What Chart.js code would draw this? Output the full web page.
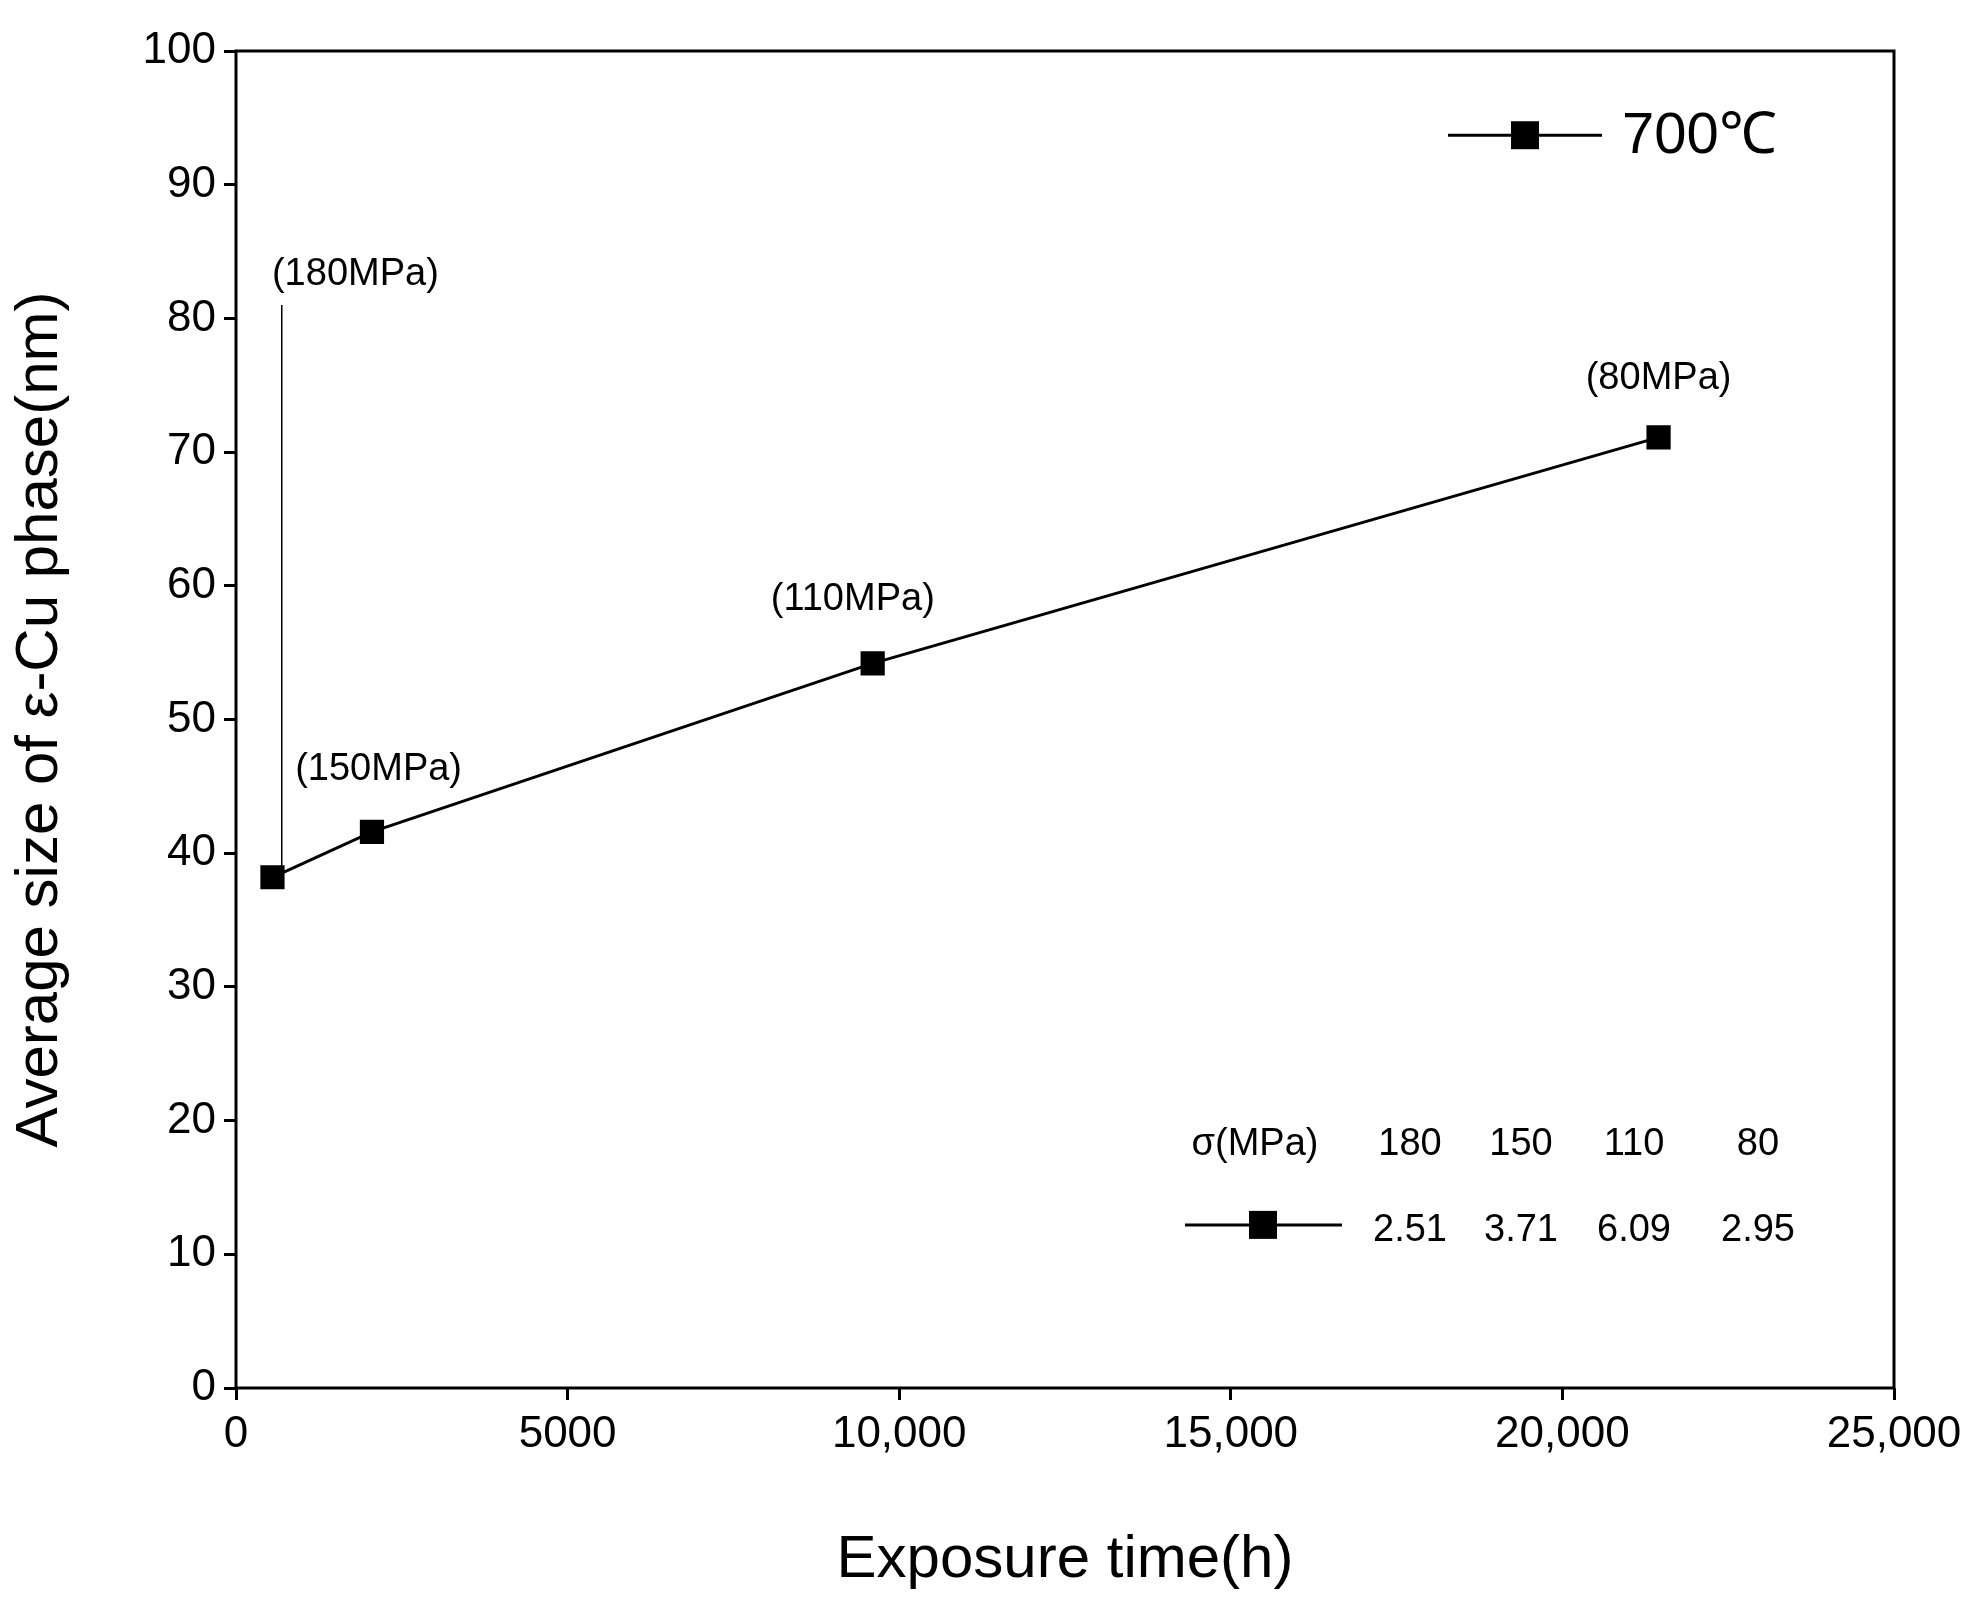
<!DOCTYPE html>
<html><head><meta charset="utf-8">
<script src="https://cdn.jsdelivr.net/npm/chart.js@4"></script>
<style>html,body{margin:0;background:#fff}#wrap{width:1986px;height:1600px}</style>
</head><body><div id="wrap"><canvas id="c"></canvas></div>
<script>
// data
const times = [550, 2050, 9600, 21450];
const sizes = [38.2, 41.6, 54.2, 71.1];
const stressLabels = ['(180MPa)', '(150MPa)', '(110MPa)', '(80MPa)'];
const sigma = ['180', '150', '110', '80'];
const slopes = ['2.51', '3.71', '6.09', '2.95'];
const xTicks = [0, 5000, 10000, 15000, 20000, 25000];
const FONT = 'Arial, "Liberation Sans", sans-serif';

const extras = {
  id: 'extras',
  afterDraw(chart) {
    const c = chart.ctx, x = chart.scales.x, y = chart.scales.y, a = chart.chartArea;
    c.save();
    c.strokeStyle = '#000'; c.lineWidth = 3;
    c.strokeRect(a.left, a.top, a.right - a.left, a.bottom - a.top);
    // leader line for first point
    c.lineWidth = 1.5;
    c.beginPath(); c.moveTo(x.getPixelForValue(690), y.getPixelForValue(38.5));
    c.lineTo(x.getPixelForValue(690), y.getPixelForValue(81)); c.stroke();
    c.fillStyle = '#000'; c.font = '38px ' + FONT; c.textAlign = 'center'; c.textBaseline = 'alphabetic';
    const lp = [[1800, 82.5], [2150, 45.5], [9300, 58.2], [21450, 74.7]];
    stressLabels.forEach((t, i) => c.fillText(t, x.getPixelForValue(lp[i][0]), y.getPixelForValue(lp[i][1])));
    // legend top right
    const ly = y.getPixelForValue(93.7);
    c.lineWidth = 3;
    c.beginPath(); c.moveTo(1448, ly); c.lineTo(1602, ly); c.stroke();
    c.fillRect(1511, ly - 14, 28, 28);
    c.font = '58px ' + FONT; c.textAlign = 'left'; c.textBaseline = 'middle';
    c.fillText('700℃', 1622, ly + 2);
    // table
    c.font = '38px ' + FONT; c.textAlign = 'center';
    const r1 = y.getPixelForValue(18.2), r2 = y.getPixelForValue(12.2);
    c.fillText('σ(MPa)', 1255, r1);
    const cols = [1410, 1521, 1634, 1758];
    sigma.forEach((s, i) => c.fillText(s, cols[i], r1));
    slopes.forEach((s, i) => c.fillText(s, cols[i], r2 + 6));
    c.beginPath(); c.moveTo(1185, r2); c.lineTo(1342, r2); c.stroke();
    c.fillRect(1249, r2 - 14, 28, 28);
    c.restore();
  }
};

new Chart(document.getElementById('c'), {
  type: 'line',
  data: { datasets: [{
    data: times.map((t, i) => ({ x: t, y: sizes[i] })),
    borderColor: '#000', backgroundColor: '#000', borderWidth: 3,
    pointStyle: 'rect', pointRadius: 15, pointHoverRadius: 15, tension: 0
  }]},
  options: {
    responsive: true, maintainAspectRatio: false, animation: false,
    layout: { padding: { top: 51, right: 92, left: 0, bottom: 0 } },
    plugins: { legend: { display: false }, tooltip: { enabled: false } },
    scales: {
      x: {
        type: 'linear', min: 0, max: 25000,
        afterBuildTicks: s => { s.ticks = xTicks.map(v => ({ value: v })); },
        afterFit: s => { s.height = 212; },
        grid: { drawOnChartArea: false, tickLength: 12, color: '#000', lineWidth: 3 },
        border: { display: false },
        ticks: { color: '#000', font: { size: 44, family: FONT }, padding: 8,
          callback: v => v >= 10000 ? v.toLocaleString('en-US') : String(v) },
        title: { display: true, text: 'Exposure time(h)', color: '#000', font: { size: 60, family: FONT }, padding: { top: 18 } }
      },
      y: {
        min: 0, max: 100,
        ticks: { stepSize: 10, color: '#000', font: { size: 44, family: FONT }, padding: 8 },
        afterFit: s => { s.width = 236; },
        grid: { drawOnChartArea: false, tickLength: 12, color: '#000', lineWidth: 3 },
        border: { display: false },
        title: { display: true, text: 'Average size of ε-Cu phase(nm)', color: '#000', font: { size: 60, family: FONT }, padding: { bottom: 6 } }
      }
    }
  },
  plugins: [extras]
});
</script></body></html>
